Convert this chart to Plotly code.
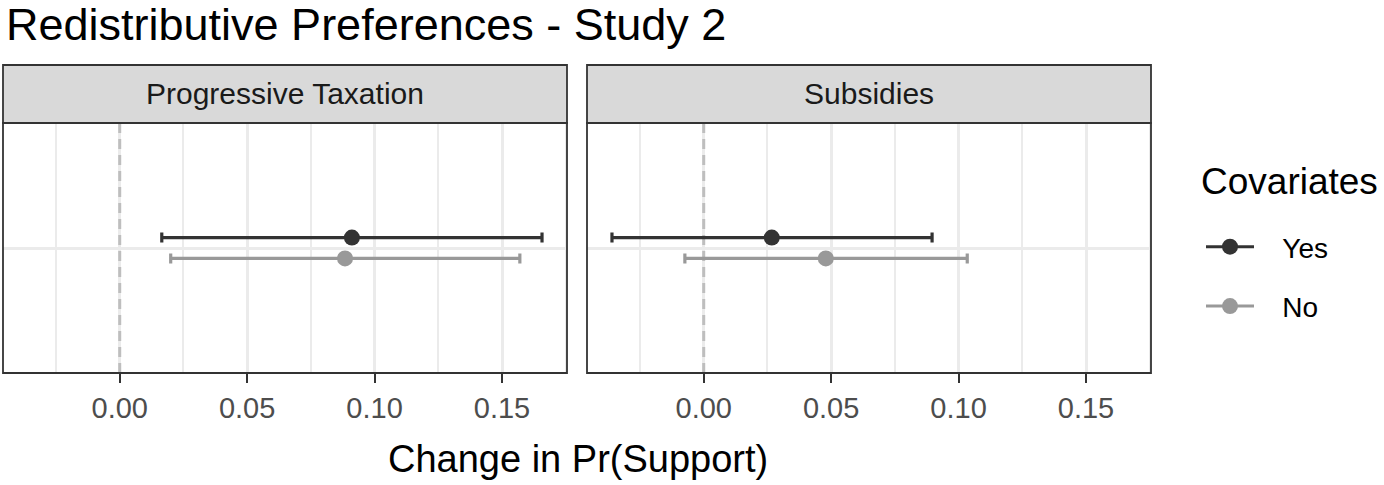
import plotly.graph_objects as go

# estimates
panels = ["Progressive Taxation", "Subsidies"]
groups = ["Yes", "No"]
est = {"Yes": [0.0911, 0.0267], "No": [0.0884, 0.0479]}
lo = {"Yes": [0.0165, -0.0360], "No": [0.0200, -0.0074]}
hi = {"Yes": [0.1657, 0.0896], "No": [0.1570, 0.1034]}
ypos = {"Yes": 1.05, "No": 0.95}   # dodged positions around the single row
colors = {"Yes": "#333333", "No": "#999999"}
x_ticks = [0.0, 0.05, 0.10, 0.15]
ref_x = 0
x_range = [-0.0458, 0.1755]
y_range = [0.4, 1.6]

W, H = 1384, 485
FONT = "Liberation Sans, Arial, Helvetica, sans-serif"

# panel boxes in pixels (left, right), plot area top/bottom, strip top
px_panels = [(3, 567), (587, 1151)]
top, bottom, strip_top = 123, 373, 65

def fx(p):
    return p / W

def fy(p):
    return (H - p) / H

fig = go.Figure()

for i, name in enumerate(panels):
    ax = "" if i == 0 else str(i + 1)
    # dashed reference line at zero, drawn first so it sits over the grid
    fig.add_trace(go.Scatter(
        x=[ref_x, ref_x], y=y_range, xaxis="x" + ax, yaxis="y" + ax,
        mode="lines", showlegend=False, hoverinfo="skip",
        line=dict(color="#bebebe", width=3, dash="10px,6px"),
    ))
    for g in groups:
        e = est[g][i]
        fig.add_trace(go.Scatter(
            x=[e], y=[ypos[g]],
            xaxis="x" + ax, yaxis="y" + ax,
            mode="lines+markers",
            name="\u00a0\u00a0\u00a0" + g, legendgroup=g, showlegend=(i == 0),
            marker=dict(color=colors[g], size=16),
            line=dict(color=colors[g], width=3),
            error_x=dict(type="data", symmetric=False,
                         array=[hi[g][i] - e], arrayminus=[e - lo[g][i]],
                         color=colors[g], thickness=3.2, width=5),
            hoverinfo="x+name",
        ))

layout = dict(
    width=W, height=H,
    margin=dict(l=0, r=0, t=0, b=0),
    plot_bgcolor="white", paper_bgcolor="white",
    font=dict(family=FONT, color="#000000"),
    title=dict(text="Redistributive Preferences - Study 2",
               x=fx(6), xanchor="left", y=fy(24), yanchor="middle",
               font=dict(size=45, color="#000000")),
    legend=dict(
        font=dict(size=28, color="#000000"),
        x=fx(1201), xanchor="left", y=fy(222), yanchor="top",
        traceorder="grouped", tracegroupgap=20, itemwidth=48,
        bgcolor="rgba(0,0,0,0)",
    ),
    shapes=[], annotations=[],
)

for i, (l, r) in enumerate(px_panels):
    ax = "" if i == 0 else str(i + 1)
    layout["xaxis" + ax] = dict(
        domain=[fx(l), fx(r)], range=x_range,
        anchor="y" + ax,
        tickvals=x_ticks, tickformat=".2f",
        ticks="outside", ticklen=9, tickwidth=2, tickcolor="#333333",
        tickfont=dict(size=29, color="#4d4d4d"),
        showgrid=True, gridcolor="#ebebeb", gridwidth=2.5,
        minor=dict(tick0=-0.025, dtick=0.05, showgrid=True,
                   gridcolor="#ebebeb", gridwidth=1.5, ticks=""),
        zeroline=False, showline=False,
    )
    layout["yaxis" + ax] = dict(
        domain=[fy(bottom), fy(top)], range=y_range,
        anchor="x" + ax,
        tickvals=[1], showticklabels=False, ticks="",
        showgrid=True, gridcolor="#ebebeb", gridwidth=2.5,
        zeroline=False, showline=False,
    )
    # panel border
    layout["shapes"].append(dict(
        type="rect", xref="paper", yref="paper",
        x0=fx(l), x1=fx(r), y0=fy(bottom), y1=fy(top),
        line=dict(color="#333333", width=1.8), fillcolor="rgba(0,0,0,0)",
    ))
    # strip
    layout["shapes"].append(dict(
        type="rect", xref="paper", yref="paper",
        x0=fx(l), x1=fx(r), y0=fy(top), y1=fy(strip_top),
        line=dict(color="#333333", width=1.8), fillcolor="#d9d9d9",
    ))
    layout["annotations"].append(dict(
        text=panels[i], xref="paper", yref="paper",
        x=fx((l + r) / 2), y=fy((top + strip_top) / 2),
        xanchor="center", yanchor="middle", showarrow=False,
        font=dict(size=30, color="#1a1a1a"),
    ))

layout["annotations"].append(dict(
    text="Covariates", xref="paper", yref="paper",
    x=fx(1199), y=fy(181), xanchor="left", yanchor="middle",
    showarrow=False, font=dict(size=37, color="#000000"),
))
layout["annotations"].append(dict(
    text="Change in Pr(Support)", xref="paper", yref="paper",
    x=fx(578), y=fy(459), xanchor="center", yanchor="middle",
    showarrow=False, font=dict(size=38, color="#000000"),
))

fig.update_layout(**layout)
fig.write_html("out.html", config={"displayModeBar": False},
               post_script="document.body.style.margin='0';")
